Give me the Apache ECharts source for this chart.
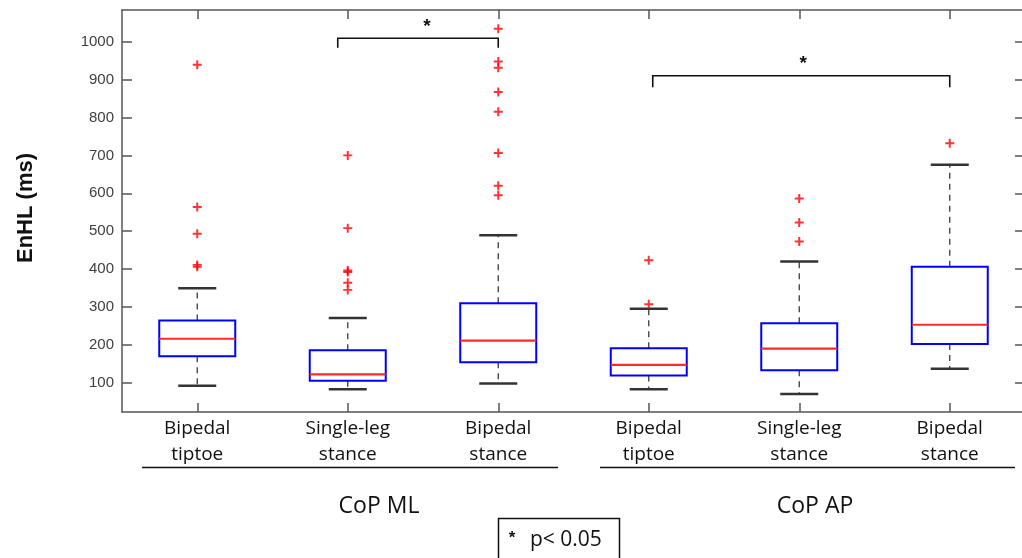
<!DOCTYPE html>
<html><head><meta charset="utf-8">
<script src="https://cdn.jsdelivr.net/npm/echarts@6/dist/echarts.min.js"></script>
<style>html,body{margin:0;padding:0;background:#fff}#c{width:1022px;height:558px}</style>
</head><body><div id="c"></div>
<script>
// ---- data ----
const categories = ['Bipedal\ntiptoe', 'Single-leg\nstance', 'Bipedal\nstance', 'Bipedal\ntiptoe', 'Single-leg\nstance', 'Bipedal\nstance'];
const groupNames = ['CoP ML', 'CoP AP'];
const yTicks = [100, 200, 300, 400, 500, 600, 700, 800, 900, 1000];
const lowerWhisker = [92, 83, 98, 83, 70, 137];
const q1 = [170, 105, 154, 119, 133, 202];
const median = [216, 122, 211, 147, 190, 253];
const q3 = [264, 186, 310, 191, 257, 406];
const upperWhisker = [349, 271, 489, 295, 420, 675];
const outliers = [
  [939, 564, 493, 411, 406],
  [700, 508, 396, 392, 364, 345],
  [1034, 948, 931, 867, 815, 706, 620, 595],
  [423, 307],
  [586, 523, 473],
  [732]
];
// significance brackets: [fromCategory, toCategory, bracketLevel, legEnd]
const brackets = [[1, 2, 1009, 984], [3, 5, 910, 880]];
const yName = 'EnHL (ms)';
const legendLabel = 'p< 0.05';

// ---- chart ----
const chart = echarts.init(document.getElementById('c'), null, {renderer: 'canvas'});
const boxData = categories.map((c, i) => [i, lowerWhisker[i], q1[i], median[i], q3[i], upperWhisker[i]]);
const outlierData = [];
outliers.forEach((arr, i) => arr.forEach(v => outlierData.push([i, v])));
const bracketOffsets = [-10, 4];
const frameColor = '#555';
const plus = 'path://M0,3.9H10V6.1H0Z M3.9,0H6.1V10H3.9Z';

const option = {
  animation: false,
  backgroundColor: '#fff',
  grid: {left: 122, top: 10, width: 903, height: 402, outerBoundsMode: 'none', containLabel: false},
  xAxis: [{
    type: 'category', data: categories, position: 'bottom',
    axisLine: {show: true, lineStyle: {color: frameColor, width: 1.5}},
    axisTick: {show: true, inside: true, length: 9, alignWithLabel: true, lineStyle: {color: frameColor, width: 1.5}},
    axisLabel: {show: true, interval: 0, margin: 4, fontFamily: 'Open Sans', fontSize: 19, lineHeight: 26, color: '#111'},
    splitLine: {show: false}
  }, {
    type: 'category', data: categories, position: 'top',
    axisLine: {show: true, lineStyle: {color: frameColor, width: 1.5}},
    axisTick: {show: true, inside: true, length: 9, alignWithLabel: true, lineStyle: {color: frameColor, width: 1.5}},
    axisLabel: {show: false}, splitLine: {show: false}
  }],
  yAxis: [{
    type: 'value', min: 22.7, max: 1083.7, position: 'left',
    axisLine: {show: true, lineStyle: {color: frameColor, width: 1.5}},
    axisTick: {show: true, inside: true, length: 10, customValues: yTicks, lineStyle: {color: frameColor, width: 1.5}},
    axisLabel: {show: true, customValues: yTicks, formatter: v => String(v), margin: 8, fontFamily: 'Liberation Sans', fontSize: 15, color: '#404040'},
    splitLine: {show: false}
  }, {
    type: 'value', min: 22.7, max: 1083.7, position: 'right',
    axisLine: {show: true, lineStyle: {color: frameColor, width: 1.5}},
    axisTick: {show: true, inside: true, length: 10, customValues: yTicks, lineStyle: {color: frameColor, width: 1.5}},
    axisLabel: {show: false}, splitLine: {show: false}
  }],
  series: [{
    type: 'custom',
    data: boxData,
    encode: {x: 0, y: [1, 2, 3, 4, 5]},
    renderItem: function (params, api) {
      const x = api.value(0);
      const pLow = api.coord([x, api.value(1)]);
      const pQ1 = api.coord([x, api.value(2)]);
      const pMed = api.coord([x, api.value(3)]);
      const pQ3 = api.coord([x, api.value(4)]);
      const pUp = api.coord([x, api.value(5)]);
      const cx = pLow[0];
      const hb = 38, hc = 19;
      const dash = {stroke: '#3a3a3a', lineWidth: 1.3, lineDash: [6, 5]};
      const cap = {stroke: '#333', lineWidth: 2.5};
      return {type: 'group', children: [
        {type: 'line', shape: {x1: cx, y1: pQ3[1], x2: cx, y2: pUp[1]}, style: dash},
        {type: 'line', shape: {x1: cx, y1: pQ1[1], x2: cx, y2: pLow[1]}, style: dash},
        {type: 'line', shape: {x1: cx - hc, y1: pUp[1], x2: cx + hc, y2: pUp[1]}, style: cap},
        {type: 'line', shape: {x1: cx - hc, y1: pLow[1], x2: cx + hc, y2: pLow[1]}, style: cap},
        {type: 'rect', shape: {x: cx - hb, y: pQ3[1], width: 2 * hb, height: pQ1[1] - pQ3[1]}, style: {fill: '#fff', stroke: '#0000ff', lineWidth: 2}},
        {type: 'line', shape: {x1: cx - hb, y1: pMed[1], x2: cx + hb, y2: pMed[1]}, style: {stroke: '#ff2a2a', lineWidth: 2.2}}
      ]};
    },
    z: 2
  }, {
    type: 'scatter',
    data: outlierData,
    symbol: plus,
    symbolSize: 9,
    itemStyle: {color: '#ff0000'},
    z: 3
  }, {
    type: 'custom',
    data: brackets,
    encode: {x: [0, 1], y: [2, 3]},
    renderItem: function (params, api) {
      const off = bracketOffsets[params.dataIndex] || 0;
      const pL = api.coord([api.value(0), api.value(2)]);
      const pR = api.coord([api.value(1), api.value(2)]);
      const pLeg = api.coord([api.value(0), api.value(3)]);
      const xl = pL[0] + off, xr = pR[0];
      const st = {stroke: '#111', lineWidth: 1.6, fill: null};
      return {type: 'group', children: [
        {type: 'polyline', shape: {points: [[xl, pLeg[1]], [xl, pL[1]], [xr, pL[1]], [xr, pLeg[1]]]}, style: st},
        {type: 'text', x: (pL[0] + pR[0]) / 2 + 4, y: pL[1] - 12,
          style: {text: '*', fontFamily: 'Liberation Sans', fontWeight: 'bold', fontSize: 19, fill: '#111', align: 'center', verticalAlign: 'middle'}}
      ]};
    },
    z: 4
  }],
  graphic: [
    {type: 'text', x: 26, y: 208, rotation: Math.PI / 2,
      style: {text: yName, fontFamily: 'Liberation Sans', fontWeight: 'bold', fontSize: 22, fill: '#111', align: 'center', verticalAlign: 'middle'}},
    {type: 'line', shape: {x1: 142, y1: 467.5, x2: 558, y2: 467.5}, style: {stroke: '#111', lineWidth: 1.5}},
    {type: 'line', shape: {x1: 600, y1: 467.5, x2: 1015, y2: 467.5}, style: {stroke: '#111', lineWidth: 1.5}},
    {type: 'text', x: 379, y: 506, style: {text: groupNames[0], fontFamily: 'Open Sans', fontSize: 23, fill: '#111', align: 'center', verticalAlign: 'middle'}},
    {type: 'text', x: 815, y: 506, style: {text: groupNames[1], fontFamily: 'Open Sans', fontSize: 23, fill: '#111', align: 'center', verticalAlign: 'middle'}},
    {type: 'rect', shape: {x: 498.5, y: 518.5, width: 121, height: 45}, style: {fill: '#fff', stroke: '#111', lineWidth: 1.5}},
    {type: 'text', x: 512, y: 538, style: {text: '*', fontFamily: 'Liberation Sans', fontWeight: 'bold', fontSize: 17, fill: '#111', align: 'center', verticalAlign: 'middle'}},
    {type: 'text', x: 530, y: 540, style: {text: legendLabel, fontFamily: 'Open Sans', fontSize: 21, fill: '#111', align: 'left', verticalAlign: 'middle'}}
  ]
};
chart.setOption(option);
</script>
</body></html>
